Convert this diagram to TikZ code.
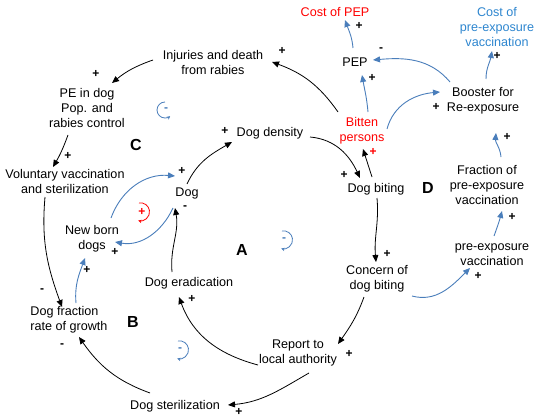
\documentclass[tikz,border=0pt]{standalone}
\usepackage{fontspec}
\setmainfont{Liberation Sans}
\usetikzlibrary{arrows.meta,calc}
\definecolor{lnblue}{HTML}{4A7EBB}
\definecolor{txblue}{HTML}{2E86CF}
\definecolor{txred}{HTML}{FF0000}
\begin{document}
\begin{tikzpicture}[x=1pt,y=1pt,
  lbl/.style={inner sep=1pt,align=center,font=\fontsize{12.6}{15}\selectfont},
  sg/.style={inner sep=0pt,font=\fontsize{12}{12}\selectfont\bfseries},
  loopname/.style={inner sep=0pt,font=\fontsize{16}{16}\selectfont\bfseries},
  blk/.style={draw=black,line width=0.8pt,-{Triangle[length=7pt,width=6pt]}},
  blu/.style={draw=lnblue,line width=0.9pt,-{Triangle[length=7pt,width=6pt]}},
  lp/.style={line width=0.8pt,-{Stealth[length=3.5pt,width=3.5pt]}}]
\useasboundingbox (0,0) rectangle (535,-417);
% nodes
\node[lbl] (inj) at (213,-62) {Injuries and death\\from rabies};
\node[lbl] (pe) at (87,-108) {PE in dog\\Pop. and\\rabies control};
\node[lbl] (vol) at (65,-181) {Voluntary vaccination\\and sterilization};
\node[lbl] (dog) at (187,-193) {Dog};
\node[lbl] (den) at (270,-133) {Dog density};
\node[lbl] (nb) at (92,-239) {New born\\dogs};
\node[lbl,align=left] (frac) at (69,-320) {Dog fraction\\rate of growth};
\node[lbl] (erad) at (189,-283) {Dog eradication};
\node[lbl] (ster) at (175,-406) {Dog sterilization};
\node[lbl] (rep) at (298,-353) {Report to\\local authority};
\node[lbl] (con) at (377,-279) {Concern of\\dog biting};
\node[lbl] (bite) at (376,-189) {Dog biting};
\node[lbl,text=txred] (bit) at (362,-131) {Bitten\\persons};
\node[lbl] (pep) at (355,-62) {PEP};
\node[lbl,text=txred] (cpep) at (335,-12) {Cost of PEP};
\node[lbl] (boo) at (483,-101) {Booster for\\Re-exposure};
\node[lbl,text=txblue] (cpre) at (497,-27) {Cost of\\pre-exposure\\vaccination};
\node[lbl] (fpre) at (487,-185) {Fraction of\\pre-exposure\\vaccination};
\node[lbl] (pre) at (492,-255) {pre-exposure\\vaccination};
% loop names
\node[loopname] (la) at (242,-250) {A};
\node[loopname] (lb) at (133,-322) {B};
\node[loopname] (lc) at (136,-145) {C};
\node[loopname] (ld) at (428,-188) {D};
% signs
\node[sg] (s1) at (96,-74) {+};
\node[sg] (s2) at (68,-156) {+};
\node[sg] (s3) at (182,-171) {+};
\node[sg] (s4) at (225,-131) {+};
\node[sg] (s5) at (185,-208) {-};
\node[sg] (s6) at (115,-252) {+};
\node[sg] (s7) at (87,-270) {+};
\node[sg] (s8) at (42,-291) {-};
\node[sg] (s9) at (62,-346) {-};
\node[sg] (s10) at (192,-299) {+};
\node[sg] (s11) at (239,-412) {+};
\node[sg] (s12) at (349,-354) {+};
\node[sg] (s13) at (387,-254) {+};
\node[sg] (s14) at (478,-276) {+};
\node[sg] (s15) at (512,-217) {+};
\node[sg] (s16) at (507,-137) {+};
\node[sg] (s17) at (344,-175) {+};
\node[sg,text=txred] (s18) at (373,-152) {+};
\node[sg] (s19) at (282,-51) {+};
\node[sg] (s20) at (372,-78) {+};
\node[sg] (s21) at (381,-50) {-};
\node[sg] (s22) at (359,-26) {+};
\node[sg] (s23) at (497,-56) {+};
\node[sg] (s24) at (436,-107) {+};
% black connectors
\draw[blk] ($(inj)+(-60,2)$) to[bend right=10] ($(pe)+(25,25)$);
\draw[blk] ($(pe)+(-19,-27)$) to[bend left=5] ($(vol)+(-12,14)$);
\draw[blk] ($(vol)+(-20,-16)$) to[out=-95,in=110] ($(frac)+(-7,13)$);
\draw[blk] ($(ster)+(-25,13)$) to[out=160,in=-55] ($(frac)+(10,-17)$);
\draw[blk] ($(erad)+(-17,11)$) to[out=95,in=-80] ($(dog)+(-12,-15)$);
\draw[blk] ($(rep)+(-40,-12)$) to[out=165,in=-70] ($(erad)+(-10,-14)$);
\draw[blk] ($(rep)+(11,-20)$) to[out=210,in=5] ($(ster)+(53,1)$);
\draw[blk] ($(con)+(-13,-18)$) to[out=-110,in=55] ($(rep)+(40,9)$);
\draw[blk] ($(bite)+(1,-9)$) to[out=-85,in=95] ($(con)+(-1,17)$);
\draw[blk] ($(bite)+(-4,12)$) -- ($(bit)+(1,-18)$);
\draw[blk] ($(den)+(40,-4)$) to[out=-5,in=115] ($(bite)+(-16,11)$);
\draw[blk] ($(dog)+(0,9)$) to[out=65,in=210] ($(den)+(-38,-9)$);
\draw[blk] ($(bit)+(-24,19)$) to[out=125,in=-20] ($(inj)+(59,0)$);
% blue connectors
\draw[blu] ($(frac)+(7,17)$) to[out=95,in=-110] ($(nb)+(-7,-19)$);
\draw[blu] ($(nb)+(19,21)$) to[out=70,in=175] ($(dog)+(-12,17)$);
\draw[blu] ($(dog)+(-14,-15)$) to[out=-115,in=-10] ($(nb)+(23,-3)$);
\draw[blu] ($(bit)+(6,19)$) to[out=95,in=-80] ($(pep)+(7,-13)$);
\draw[blu] ($(bit)+(25,2)$) to[out=75,in=185] ($(boo)+(-43,9)$);
\draw[blu] ($(boo)+(-33,19)$) to[out=130,in=5] ($(pep)+(18,2)$);
\draw[blu] ($(pep)+(-2,14)$) to[out=95,in=-70] ($(cpep)+(10,-8)$);
\draw[blu] ($(boo)+(3,22)$) to[out=90,in=-100] ($(cpre)+(-5,-24)$);
\draw[blu] ($(fpre)+(14,28)$) to[out=95,in=-95] ($(boo)+(13,-32)$);
\draw[blu] ($(pre)+(2,19)$) to[out=70,in=-105] ($(fpre)+(15,-26)$);
\draw[blu] ($(con)+(35,-17)$) to[out=-15,in=-135] ($(pre)+(-22,-13)$);
% loop markers
\node[sg,text=lnblue] (mc) at (166,-110) {-};
\draw[lp,lnblue] (165,-102) arc[start angle=90,end angle=310,radius=8];
\node[sg,text=lnblue] (ma) at (284,-240) {-};
\draw[lp,lnblue] ($(ma)+(-2,9)$) arc[start angle=100,end angle=-105,radius=9];
\node[sg,text=lnblue] (mb) at (180,-350) {-};
\draw[lp,lnblue] ($(mb)+(-2,9)$) arc[start angle=100,end angle=-105,radius=9];
\node[sg,text=txred] (mr) at (142,-212) {+};
\draw[lp,txred] ($(mr)+(-3,9)$) arc[start angle=100,end angle=-105,radius=9];
\end{tikzpicture}
\end{document}
